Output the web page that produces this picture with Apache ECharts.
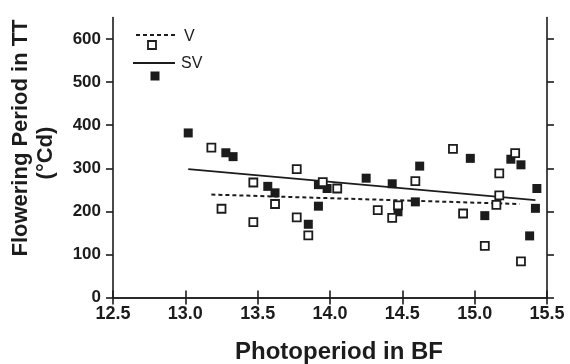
<!DOCTYPE html>
<html>
<head>
<meta charset="utf-8">
<script src="https://cdn.jsdelivr.net/npm/echarts@6/dist/echarts.min.js"></script>
<style>
  html, body { margin: 0; padding: 0; background: #fff; }
  #chart { width: 570px; height: 364px; }
</style>
</head>
<body>
<div id="chart"></div>
<script>
// V (hollow squares)
const vPhotoperiod = [13.18, 13.25, 13.47, 13.47, 13.62, 13.77, 13.77, 13.85, 13.95, 14.05, 14.33,
  14.43, 14.47, 14.59, 14.85, 14.92, 15.07, 15.17, 15.17, 15.15, 15.28, 15.32]
const vFlowering = [348, 206, 267, 175, 217, 298, 186, 144, 268, 253, 203,
  185, 214, 270, 345, 195, 120, 288, 237, 215, 335, 84]

// SV (filled squares)
const svPhotoperiod = [13.02, 13.28, 13.33, 13.57, 13.62, 13.85, 13.92, 13.92, 13.98, 14.25, 14.43,
  14.47, 14.59, 14.62, 14.97, 15.07, 15.25, 15.32, 15.38, 15.43, 15.42]
const svFlowering = [382, 336, 327, 258, 243, 170, 262, 212, 253, 277, 264,
  199, 222, 305, 323, 190, 321, 308, 143, 253, 207]

// regression lines (end points)
const vFitX = [13.18, 15.31]
const vFitY = [239, 217]
const svFitX = [13.02, 15.42]
const svFitY = [298, 226]

const yTicks = [0, 100, 200, 300, 400, 500, 600]

const ink = '#1c1c1c'
const font = '"Liberation Sans", Arial, sans-serif'

const zip = (xs, ys) => xs.map((x, i) => [x, ys[i]])

const chart = echarts.init(document.getElementById('chart'))

const frameAxis = {
  axisLine: { lineStyle: { color: ink, width: 1.6 } },
  axisTick: { length: 7, lineStyle: { color: ink, width: 1.6 } },
  splitLine: { show: false },
}

const option = {
  backgroundColor: '#fff',
  animation: false,
  grid: { left: 113, right: 23, top: 17.5, bottom: 66.5 },
  xAxis: [
    {
      ...frameAxis,
      type: 'value',
      position: 'bottom',
      min: 12.5,
      max: 15.5,
      interval: 0.5,
      axisLabel: {
        margin: 8,
        color: ink,
        fontFamily: font,
        fontWeight: 'bold',
        fontSize: 18,
        formatter: (v) => v.toFixed(1),
      },
    },
    {
      ...frameAxis,
      type: 'value',
      position: 'top',
      min: 12.5,
      max: 15.5,
      interval: 0.5,
      axisLabel: { show: false },
    },
  ],
  yAxis: [
    {
      ...frameAxis,
      type: 'value',
      position: 'left',
      min: 0,
      max: 650,
      axisTick: { ...frameAxis.axisTick, customValues: yTicks },
      axisLabel: {
        customValues: yTicks,
        margin: 12,
        color: ink,
        fontFamily: font,
        fontWeight: 'bold',
        fontSize: 17,
      },
    },
    {
      ...frameAxis,
      type: 'value',
      position: 'right',
      min: 0,
      max: 650,
      axisTick: { ...frameAxis.axisTick, customValues: yTicks },
      axisLabel: { show: false },
    },
  ],
  series: [
    {
      name: 'V fit',
      type: 'line',
      data: zip(vFitX, vFitY),
      symbol: 'none',
      lineStyle: { color: ink, width: 2, type: [4, 3] },
      z: 1,
    },
    {
      name: 'SV fit',
      type: 'line',
      data: zip(svFitX, svFitY),
      symbol: 'none',
      lineStyle: { color: ink, width: 1.8 },
      z: 1,
    },
    {
      name: 'SV',
      type: 'scatter',
      data: zip(svPhotoperiod, svFlowering),
      symbol: 'rect',
      symbolSize: 9,
      itemStyle: { color: ink, opacity: 1 },
      z: 2,
    },
    {
      name: 'V',
      type: 'scatter',
      data: zip(vPhotoperiod, vFlowering),
      symbol: 'rect',
      symbolSize: 8,
      itemStyle: { color: '#fff', borderColor: ink, borderWidth: 1.8, opacity: 1 },
      z: 3,
    },
  ],
  // legend and axis titles drawn by hand to match the figure layout
  graphic: [
    { type: 'line', shape: { x1: 136, y1: 35, x2: 177, y2: 35 }, style: { stroke: ink, lineWidth: 2, lineDash: [4, 3] } },
    { type: 'text', x: 184, y: 37, style: { text: 'V', font: '16px ' + font, fill: ink, verticalAlign: 'middle' } },
    { type: 'rect', shape: { x: 148, y: 41, width: 8, height: 8 }, style: { fill: '#fff', stroke: ink, lineWidth: 1.8 } },
    { type: 'line', shape: { x1: 133, y1: 63, x2: 175, y2: 63 }, style: { stroke: ink, lineWidth: 1.8 } },
    { type: 'text', x: 181, y: 64, style: { text: 'SV', font: '16px ' + font, fill: ink, verticalAlign: 'middle' } },
    { type: 'rect', shape: { x: 150.5, y: 71.5, width: 9, height: 9 }, style: { fill: ink } },
    {
      type: 'text', x: 21, y: 138, rotation: Math.PI / 2,
      style: { text: 'Flowering Period in TT', font: 'bold 22px ' + font, fill: ink, align: 'center', verticalAlign: 'middle' },
    },
    {
      type: 'text', x: 46, y: 153, rotation: Math.PI / 2,
      style: { text: '(°Cd)', font: 'bold 22px ' + font, fill: ink, align: 'center', verticalAlign: 'middle' },
    },
    {
      type: 'text', x: 339, y: 352,
      style: { text: 'Photoperiod in BF', font: 'bold 24px ' + font, fill: ink, align: 'center', verticalAlign: 'middle' },
    },
  ],
}

chart.setOption(option)
</script>
</body>
</html>
